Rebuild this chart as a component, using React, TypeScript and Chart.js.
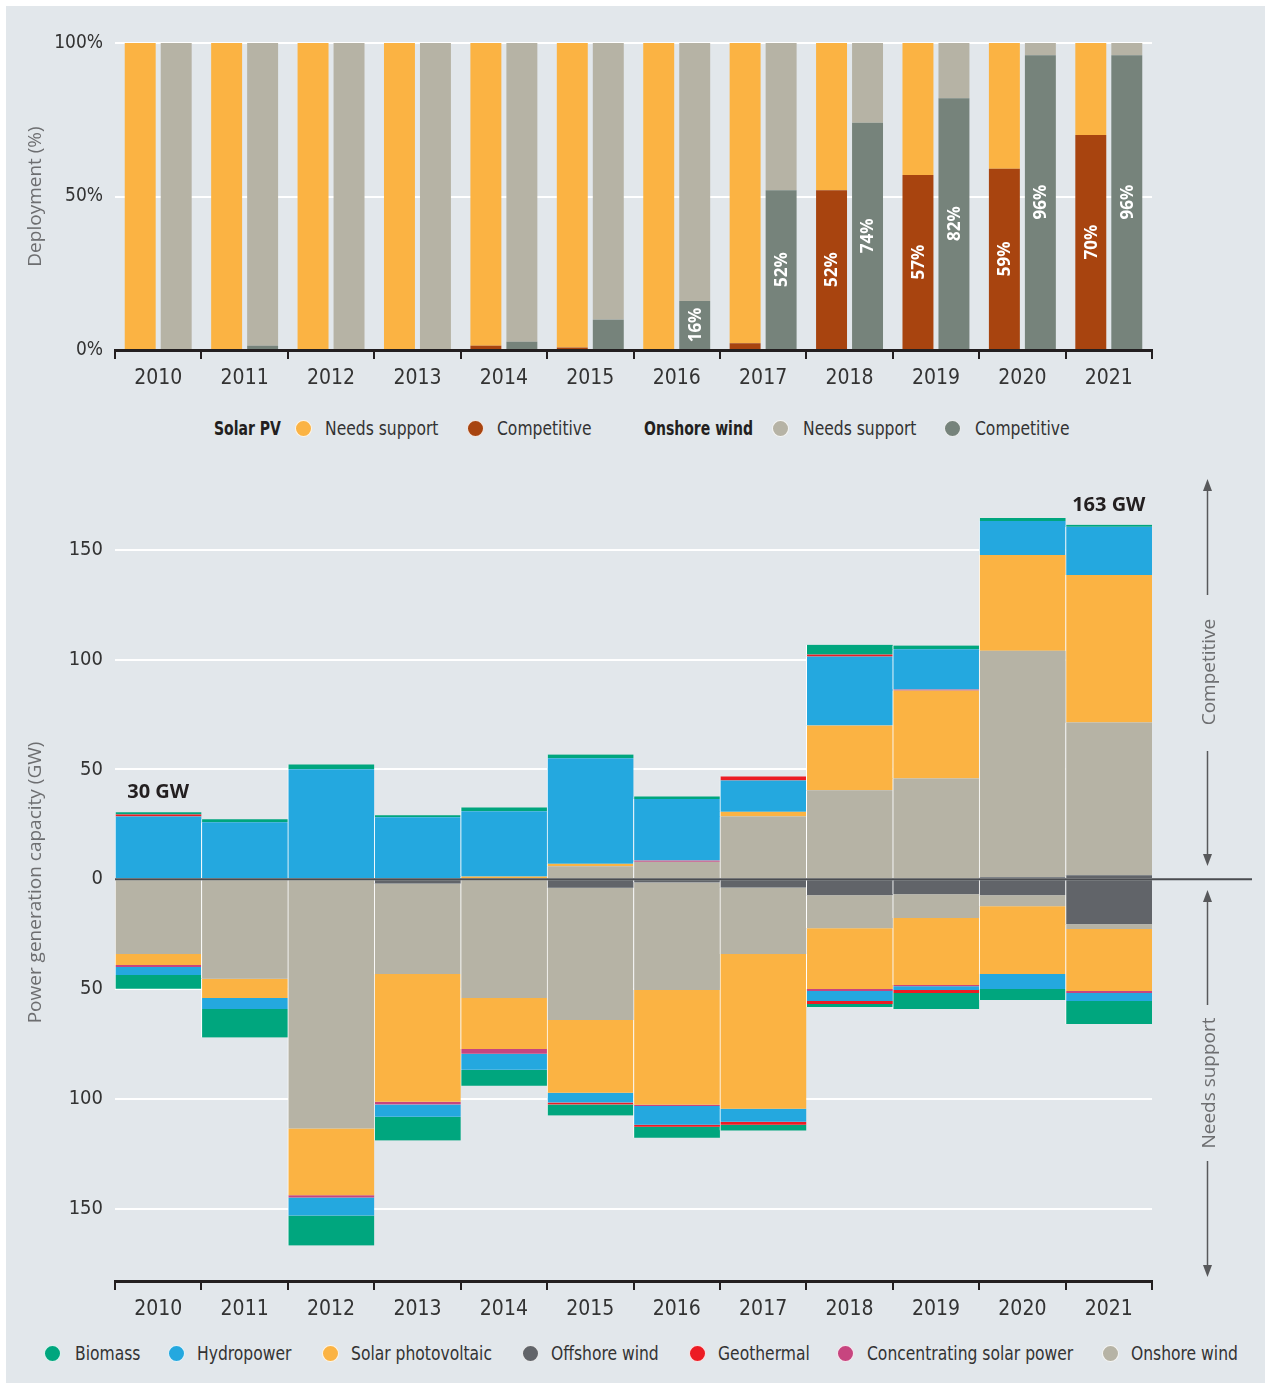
import React, { useEffect, useRef } from 'react';
import { Chart, registerables } from 'chart.js';

Chart.register(...registerables);

// ---------------- DATA ----------------
const years = ['2010', '2011', '2012', '2013', '2014', '2015', '2016', '2017', '2018', '2019', '2020', '2021'];

// Top chart: share of deployment (%)
const solarCompetitive = [0, 0, 0, 0, 1.4, 0.8, 0, 2.2, 52, 57, 59, 70];
const solarNeedsSupport = [100, 100, 100, 100, 98.6, 99.2, 100, 97.8, 48, 43, 41, 30];
const windCompetitive = [0, 1.4, 0, 0, 2.7, 9.9, 16, 52, 74, 82, 96, 96];
const windNeedsSupport = [100, 98.6, 100, 100, 97.3, 90.1, 84, 48, 26, 18, 4, 4];

// Bottom chart: competitive capacity (GW, above zero)
const offshoreCompetitive = [0, 0, 0, 0, 0, 0, 0, 0, 0, 0, 0.9, 1.8];
const onshoreCompetitive = [0, 0, 0, 0, 0, 5.9, 7.9, 28.6, 40.5, 45.9, 103.2, 69.6];
const solarPvCompetitive = [0, 0, 0, 0, 1.2, 1.1, 0, 2.1, 29.5, 40.0, 43.6, 67.2];
const cspCompetitive = [0, 0, 0, 0, 0, 0, 0.6, 0, 0, 0.5, 0, 0];
const hydroCompetitive = [28.6, 25.9, 50.1, 28.2, 29.8, 48.1, 28.0, 14.3, 31.4, 18.3, 15.5, 21.9];
const geoCompetitive = [0.9, 0, 0, 0, 0, 0, 0, 1.8, 0.9, 0, 0, 0];
const bioCompetitive = [1.0, 1.4, 2.2, 0.9, 1.7, 1.7, 1.2, 0, 4.5, 1.7, 1.3, 0.9];

// Bottom chart: capacity that needs support (GW, drawn below zero)
const offshoreNeedsSupport = [0.5, 0, 0.5, 2.0, 0, 3.9, 1.5, 3.8, 7.3, 6.8, 7.3, 20.5];
const onshoreNeedsSupport = [33.6, 45.3, 113.0, 41.2, 54.1, 60.2, 49.0, 30.3, 15.0, 10.9, 5.0, 2.2];
const solarPvNeedsSupport = [5.0, 8.8, 30.5, 58.2, 23.2, 33.2, 52.2, 70.4, 27.7, 30.5, 30.9, 28.2];
const cspNeedsSupport = [0.9, 0, 1.0, 1.2, 2.2, 0, 0.6, 0, 0.9, 0.6, 0, 0.9];
const hydroNeedsSupport = [3.6, 5.0, 8.2, 5.6, 7.3, 4.4, 8.5, 6.0, 4.6, 1.7, 6.8, 3.7];
const geoNeedsSupport = [0, 0, 0, 0, 0, 0.9, 0.9, 1.3, 1.3, 1.3, 0, 0];
const bioNeedsSupport = [6.3, 13.0, 13.6, 10.8, 7.3, 5.0, 5.0, 2.7, 1.4, 7.3, 5.0, 10.4];

const totalLabels = [
  { index: 0, text: '30 GW' },
  { index: 11, text: '163 GW' },
];

const pctTicks = [0, 50, 100];
const gwTicks = [-150, -100, -50, 0, 50, 100, 150];

// ---------------- STYLE ----------------
const BG = '#e2e7eb';
const C = {
  solar: '#fbb343',
  solarComp: '#a8440f',
  onshore: '#b6b3a5',
  windComp: '#76837b',
  offshore: '#616469',
  hydro: '#24a8df',
  bio: '#00a67e',
  geo: '#ec1c24',
  csp: '#c7457f',
};
const NARROW = '"Liberation Sans Narrow", "Arial Narrow", "DejaVu Sans Condensed", sans-serif';
const SANS = '"Open Sans", "Noto Sans", sans-serif';
const INK = '#231f20';

const techs = [
  { name: 'Offshore wind', comp: offshoreCompetitive, ns: offshoreNeedsSupport, color: C.offshore },
  { name: 'Onshore wind', comp: onshoreCompetitive, ns: onshoreNeedsSupport, color: C.onshore },
  { name: 'Solar photovoltaic', comp: solarPvCompetitive, ns: solarPvNeedsSupport, color: C.solar },
  { name: 'Concentrating solar power', comp: cspCompetitive, ns: cspNeedsSupport, color: C.csp },
  { name: 'Hydropower', comp: hydroCompetitive, ns: hydroNeedsSupport, color: C.hydro },
  { name: 'Geothermal', comp: geoCompetitive, ns: geoNeedsSupport, color: C.geo },
  { name: 'Biomass', comp: bioCompetitive, ns: bioNeedsSupport, color: C.bio },
];

const topLabelPlugin = {
  id: 'compLabels',
  afterDatasetsDraw(chart: any) {
    const ctx = chart.ctx;
    [0, 2].forEach((di) => {
      const meta = chart.getDatasetMeta(di);
      const data = chart.data.datasets[di].data as number[];
      meta.data.forEach((el: any, i: number) => {
        const v = data[i];
        if (v < 15) return;
        const p = el.getProps(['x', 'y', 'base'], true);
        ctx.save();
        ctx.translate(p.x, (p.y + p.base) / 2);
        ctx.rotate(-Math.PI / 2);
        ctx.fillStyle = '#ffffff';
        ctx.font = `bold 17px ${SANS}`;
        ctx.textAlign = 'center';
        ctx.textBaseline = 'middle';
        ctx.fillText(Math.round(v) + '%', 0, 1);
        ctx.restore();
      });
    });
  },
};

const bottomPlugin = {
  id: 'zeroAndTotals',
  afterDatasetsDraw(chart: any) {
    const { ctx, chartArea } = chart;
    const xs = chart.scales.x;
    const ys = chart.scales.y;
    const y0 = ys.getPixelForValue(0);
    ctx.save();
    ctx.strokeStyle = '#4a4c50';
    ctx.lineWidth = 2;
    ctx.beginPath();
    ctx.moveTo(chartArea.left, y0);
    ctx.lineTo(1252, y0);
    ctx.stroke();
    ctx.font = `bold 20px ${SANS}`;
    ctx.fillStyle = INK;
    ctx.textAlign = 'center';
    ctx.textBaseline = 'middle';
    totalLabels.forEach(({ index, text }) => {
      const total = techs.reduce((s, t) => s + t.comp[index], 0);
      ctx.fillText(text, xs.getPixelForValue(index), ys.getPixelForValue(total) - 20);
    });
    ctx.restore();
  },
};

const xAxisStyle = {
  stacked: true,
  grid: { offset: true, drawOnChartArea: false, drawTicks: true, tickLength: 9, color: INK, lineWidth: 2 },
  border: { display: true, color: INK, width: 3 },
  ticks: { color: '#333', font: { family: NARROW, size: 21 }, padding: 7 },
};

const Dot = ({ cx, cy, color }: { cx: number; cy: number; color: string }) => (
  <div
    style={{
      position: 'absolute', left: cx - 8.5, top: cy - 8.5, width: 17, height: 17, borderRadius: '50%',
      background: color, border: '1px solid rgba(255,255,255,0.85)', boxSizing: 'border-box',
    }}
  />
);
const Txt = ({ x, cy, text, bold }: { x: number; cy: number; text: string; bold?: boolean }) => (
  <div
    style={{
      position: 'absolute', left: x, top: cy, transform: `translateY(-50%) scaleX(${bold ? 0.82 : 0.91})`,
      transformOrigin: 'left center', whiteSpace: 'nowrap',
      font: `${bold ? 'bold ' : ''}19px ${NARROW}`, color: bold ? INK : '#333', lineHeight: 1,
    }}
  >
    {text}
  </div>
);

const topLegend = [
  { type: 't', x: 214, text: 'Solar PV', bold: true },
  { type: 'd', x: 303, color: C.solar },
  { type: 't', x: 325, text: 'Needs support' },
  { type: 'd', x: 475, color: C.solarComp },
  { type: 't', x: 497, text: 'Competitive' },
  { type: 't', x: 644, text: 'Onshore wind', bold: true },
  { type: 'd', x: 780, color: C.onshore },
  { type: 't', x: 803, text: 'Needs support' },
  { type: 'd', x: 952, color: C.windComp },
  { type: 't', x: 975, text: 'Competitive' },
];

const bottomLegend = [
  { dot: 52.6, x: 75, text: 'Biomass', color: C.bio },
  { dot: 176, x: 197, text: 'Hydropower', color: C.hydro },
  { dot: 330, x: 351, text: 'Solar photovoltaic', color: C.solar },
  { dot: 530, x: 551, text: 'Offshore wind', color: C.offshore },
  { dot: 697, x: 718, text: 'Geothermal', color: C.geo },
  { dot: 845, x: 867, text: 'Concentrating solar power', color: C.csp },
  { dot: 1110, x: 1131, text: 'Onshore wind', color: C.onshore },
];

export default function App() {
  const topRef = useRef<HTMLCanvasElement>(null);
  const botRef = useRef<HTMLCanvasElement>(null);

  useEffect(() => {
    const top = new Chart(topRef.current as HTMLCanvasElement, {
      type: 'bar',
      data: {
        labels: years,
        datasets: [
          { label: 'Solar PV competitive', data: solarCompetitive, backgroundColor: C.solarComp, stack: 'solar' },
          { label: 'Solar PV needs support', data: solarNeedsSupport, backgroundColor: C.solar, stack: 'solar' },
          { label: 'Onshore wind competitive', data: windCompetitive, backgroundColor: C.windComp, stack: 'wind' },
          { label: 'Onshore wind needs support', data: windNeedsSupport, backgroundColor: C.onshore, stack: 'wind' },
        ],
      },
      options: {
        animation: false,
        responsive: false,
        maintainAspectRatio: false,
        layout: { padding: { top: 43, right: 117, left: 0, bottom: 0 } },
        datasets: { bar: { categoryPercentage: 0.833, barPercentage: 0.86 } },
        plugins: { legend: { display: false }, tooltip: { enabled: false } },
        scales: {
          x: { ...xAxisStyle, afterFit: (s: any) => { s.height = 50; } } as any,
          y: {
            stacked: true, min: 0, max: 100,
            afterBuildTicks: (s: any) => { s.ticks = pctTicks.map((v) => ({ value: v })); },
            ticks: { callback: (v: any) => v + '%', color: '#333', font: { family: NARROW, size: 19 }, padding: 12 },
            grid: { color: '#ffffff', lineWidth: 2, drawTicks: false },
            border: { display: false },
            title: { display: true, text: 'Deployment (%)', color: '#6d6e70', font: { family: SANS, size: 19 }, padding: { top: 24, bottom: 0 } },
            afterFit: (s: any) => { s.width = 115; },
          } as any,
        },
      },
      plugins: [topLabelPlugin],
    });

    const datasets: any[] = [];
    techs.forEach((t) => {
      const common = {
        backgroundColor: t.color, stack: 'cap', borderColor: '#ffffff',
        borderWidth: { left: 1, right: 0, top: 0, bottom: 0 }, borderSkipped: false,
      };
      datasets.push({ label: t.name + ' (competitive)', data: t.comp, ...common });
      datasets.push({ label: t.name + ' (needs support)', data: t.ns.map((v) => -v), ...common });
    });

    const bot = new Chart(botRef.current as HTMLCanvasElement, {
      type: 'bar',
      data: { labels: years, datasets },
      options: {
        animation: false,
        responsive: false,
        maintainAspectRatio: false,
        layout: { padding: { top: 22, right: 117, left: 0, bottom: 0 } },
        datasets: { bar: { categoryPercentage: 1, barPercentage: 1 } },
        plugins: { legend: { display: false }, tooltip: { enabled: false } },
        scales: {
          x: { ...xAxisStyle, afterFit: (s: any) => { s.height = 40; } } as any,
          y: {
            stacked: true, min: -183, max: 180,
            afterBuildTicks: (s: any) => { s.ticks = gwTicks.map((v) => ({ value: v })); },
            ticks: { callback: (v: any) => String(Math.abs(v)), color: '#333', font: { family: NARROW, size: 20 }, padding: 12 },
            grid: { color: '#ffffff', lineWidth: 2, drawTicks: false },
            border: { display: false },
            title: { display: true, text: 'Power generation capacity (GW)', color: '#6d6e70', font: { family: SANS, size: 19 }, padding: { top: 24, bottom: 0 } },
            afterFit: (s: any) => { s.width = 115; },
          } as any,
        },
      },
      plugins: [bottomPlugin],
    });

    return () => {
      top.destroy();
      bot.destroy();
    };
  }, []);

  const AX = 1207.5;
  const arrowCol = '#58595b';
  const annText = '#6d6e70';

  return (
    <div style={{ position: 'absolute', left: 0, top: 0, width: 1269, height: 1387, background: '#ffffff', overflow: 'hidden' }}>
      <div style={{ position: 'absolute', left: 6, top: 6, width: 1259, height: 1377, background: BG }} />
      <canvas ref={topRef} width={1269} height={400} style={{ position: 'absolute', left: 0, top: 0, width: 1269, height: 400, display: 'block' }} />
      <canvas ref={botRef} width={1269} height={861} style={{ position: 'absolute', left: 0, top: 460, width: 1269, height: 861, display: 'block' }} />

      {topLegend.map((it, i) =>
        it.type === 'd' ? (
          <Dot key={'tl' + i} cx={it.x} cy={428} color={it.color as string} />
        ) : (
          <Txt key={'tl' + i} x={it.x} cy={428} text={it.text as string} bold={it.bold} />
        )
      )}

      {bottomLegend.map((it, i) => (
        <React.Fragment key={'bl' + i}>
          <Dot cx={it.dot} cy={1353} color={it.color} />
          <Txt x={it.x} cy={1353} text={it.text} />
        </React.Fragment>
      ))}

      <svg width={1269} height={1387} style={{ position: 'absolute', left: 0, top: 0, pointerEvents: 'none' }}>
        <g stroke={arrowCol} strokeWidth={1.5} fill="none">
          <line x1={AX} y1={488} x2={AX} y2={595} />
          <line x1={AX} y1={751} x2={AX} y2={857} />
          <line x1={AX} y1={899} x2={AX} y2={1005} />
          <line x1={AX} y1={1161} x2={AX} y2={1268} />
        </g>
        <g fill={arrowCol}>
          <polygon points={`${AX},479 ${AX - 4.5},491 ${AX + 4.5},491`} />
          <polygon points={`${AX},866 ${AX - 4.5},854 ${AX + 4.5},854`} />
          <polygon points={`${AX},890 ${AX - 4.5},902 ${AX + 4.5},902`} />
          <polygon points={`${AX},1277 ${AX - 4.5},1265 ${AX + 4.5},1265`} />
        </g>
        <text x={AX} y={672} transform={`rotate(-90 ${AX} 672)`} textAnchor="middle" dominantBaseline="central"
          fill={annText} style={{ font: `19px ${SANS}` }}>Competitive</text>
        <text x={AX} y={1083} transform={`rotate(-90 ${AX} 1083)`} textAnchor="middle" dominantBaseline="central"
          fill={annText} style={{ font: `19px ${SANS}` }}>Needs support</text>
      </svg>
    </div>
  );
}
